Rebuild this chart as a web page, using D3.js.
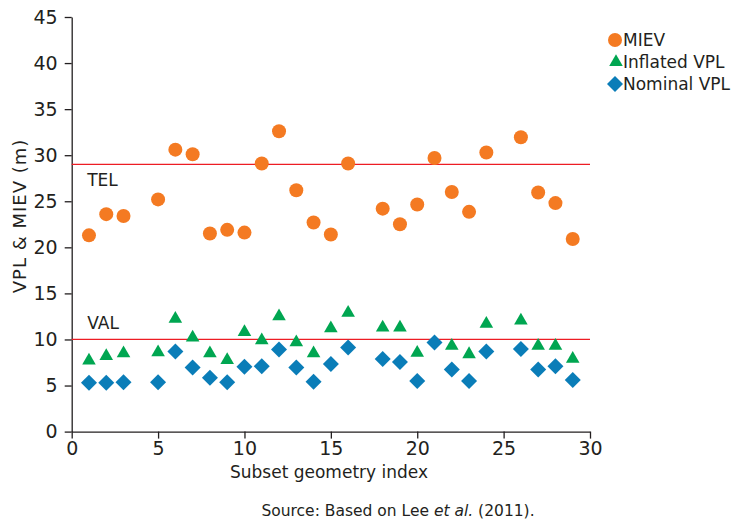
<!DOCTYPE html>
<html>
<head>
<meta charset="utf-8">
<script src="https://cdn.jsdelivr.net/npm/d3@7"></script>
<style>
  body { margin: 0; background: #fff; }
  text { font-family: "DejaVu Sans", sans-serif; fill: #231f20; }
</style>
</head>
<body>
<script>
// subset geometry index for each series
let mievX = [1, 2, 3, 5, 6, 7, 8, 9, 10, 11, 12, 13, 14, 15, 16, 18, 19, 20, 21, 22, 23, 24, 26, 27, 28, 29];
let mievY = [21.3, 23.6, 23.4, 25.2, 30.6, 30.1, 21.5, 21.9, 21.6, 29.1, 32.6, 26.2, 22.7, 21.4, 29.1, 24.2, 22.5, 24.65, 29.7, 26.0, 23.85, 30.3, 31.95, 25.95, 24.8, 20.9];

let inflX = [1, 2, 3, 5, 6, 7, 8, 9, 10, 11, 12, 13, 14, 15, 16, 18, 19, 20, 22, 23, 24, 26, 27, 28, 29];
let inflY = [7.7, 8.2, 8.5, 8.6, 12.25, 10.2, 8.5, 7.75, 10.8, 9.9, 12.5, 9.7, 8.5, 11.2, 12.9, 11.3, 11.3, 8.55, 9.3, 8.4, 11.7, 12.05, 9.3, 9.3, 7.9];

let nomX = [1, 2, 3, 5, 6, 7, 8, 9, 10, 11, 12, 13, 14, 15, 16, 18, 19, 20, 21, 22, 23, 24, 26, 27, 28, 29];
let nomY = [5.3, 5.3, 5.35, 5.35, 8.7, 6.97, 5.85, 5.35, 7.04, 7.1, 8.9, 6.97, 5.4, 7.33, 9.14, 7.87, 7.55, 5.5, 9.68, 6.75, 5.5, 8.7, 8.96, 6.75, 7.1, 5.6];

let refNames = ["TEL", "VAL"];
let refValues = [29, 10];

let xTicks = [0, 5, 10, 15, 20, 25, 30];
let yTicks = [0, 5, 10, 15, 20, 25, 30, 35, 40, 45];

let seriesNames = ["MIEV", "Inflated VPL", "Nominal VPL"];

let canvasW = 741;
let canvasH = 522;
let plotL = 71.7, plotR = 590, plotT = 17, plotB = 431.6;

let orange = "#f47a22";
let green = "#00a651";
let blue = "#0a7db8";

let svg = d3.select("body").append("svg")
  .attr("width", canvasW)
  .attr("height", canvasH);

let x = d3.scaleLinear().domain([0, 30]).range([plotL, plotR]);
let y = d3.scaleLinear().domain([0, 45]).range([plotB, plotT]);

// axes
let xAxis = svg.append("g")
  .attr("transform", "translate(0," + plotB + ")")
  .call(d3.axisBottom(x).tickValues(xTicks).tickSize(7).tickSizeOuter(0).tickPadding(3));
let yAxis = svg.append("g")
  .attr("transform", "translate(" + plotL + ",0)")
  .call(d3.axisLeft(y).tickValues(yTicks).tickSize(7).tickSizeOuter(0).tickPadding(7));

svg.selectAll(".domain, .tick line")
  .attr("stroke", "#231f20")
  .attr("stroke-width", 1.3);
svg.selectAll(".tick text")
  .attr("font-size", "19px")
  .style("font-family", "DejaVu Sans, sans-serif")
  .style("fill", "#231f20");

// threshold lines
svg.selectAll(".ref")
  .data(refValues)
  .enter()
  .append("line")
    .attr("x1", x(0))
    .attr("x2", x(30))
    .attr("y1", d => y(d))
    .attr("y2", d => y(d))
    .attr("stroke", "#ed1c24")
    .attr("stroke-width", 1.3);

svg.selectAll(".refText")
  .data(refNames)
  .enter()
  .append("text")
    .attr("x", x(0.9))
    .attr("y", (d, i) => y(refValues[i]) + (i == 0 ? 22 : -10))
    .attr("font-size", "17px")
    .text(d => d);

// markers
let tri = d3.symbol().type(d3.symbolTriangle).size(80);
let dia = d3.symbol().type(d3.symbolSquare).size(128);

svg.selectAll(".miev")
  .data(mievX)
  .enter()
  .append("circle")
    .attr("cx", d => x(d))
    .attr("cy", (d, i) => y(mievY[i]))
    .attr("r", 7)
    .attr("fill", orange);

svg.selectAll(".infl")
  .data(inflX)
  .enter()
  .append("path")
    .attr("d", tri)
    .attr("transform", (d, i) => "translate(" + x(d) + "," + y(inflY[i]) + ")")
    .attr("fill", green);

svg.selectAll(".nom")
  .data(nomX)
  .enter()
  .append("path")
    .attr("d", dia)
    .attr("transform", (d, i) => "translate(" + x(d) + "," + y(nomY[i]) + ") rotate(45)")
    .attr("fill", blue);

// legend
let legY = [40, 62, 84];
svg.append("circle").attr("cx", 615).attr("cy", legY[0]).attr("r", 7).attr("fill", orange);
svg.append("path").attr("d", tri).attr("transform", "translate(616," + legY[1] + ")").attr("fill", green);
svg.append("path").attr("d", dia).attr("transform", "translate(615," + legY[2] + ") rotate(45)").attr("fill", blue);

svg.selectAll(".legText")
  .data(seriesNames)
  .enter()
  .append("text")
    .attr("x", 623)
    .attr("y", (d, i) => legY[i] + 6)
    .attr("font-size", "17px")
    .text(d => d);

// axis titles
svg.append("text")
  .attr("x", 329)
  .attr("y", 478)
  .attr("text-anchor", "middle")
  .attr("font-size", "17px")
  .text("Subset geometry index");

svg.append("text")
  .attr("transform", "translate(26," + y(23.4) + ") rotate(-90)")
  .attr("text-anchor", "middle")
  .attr("font-size", "18px")
  .attr("letter-spacing", "1px")
  .text("VPL & MIEV (m)");

let src = svg.append("text")
  .attr("x", 398)
  .attr("y", 516)
  .attr("text-anchor", "middle")
  .attr("font-size", "15.5px");
src.append("tspan").text("Source: Based on Lee ");
src.append("tspan").attr("font-style", "italic").text("et al.");
src.append("tspan").text(" (2011).");
</script>
</body>
</html>
